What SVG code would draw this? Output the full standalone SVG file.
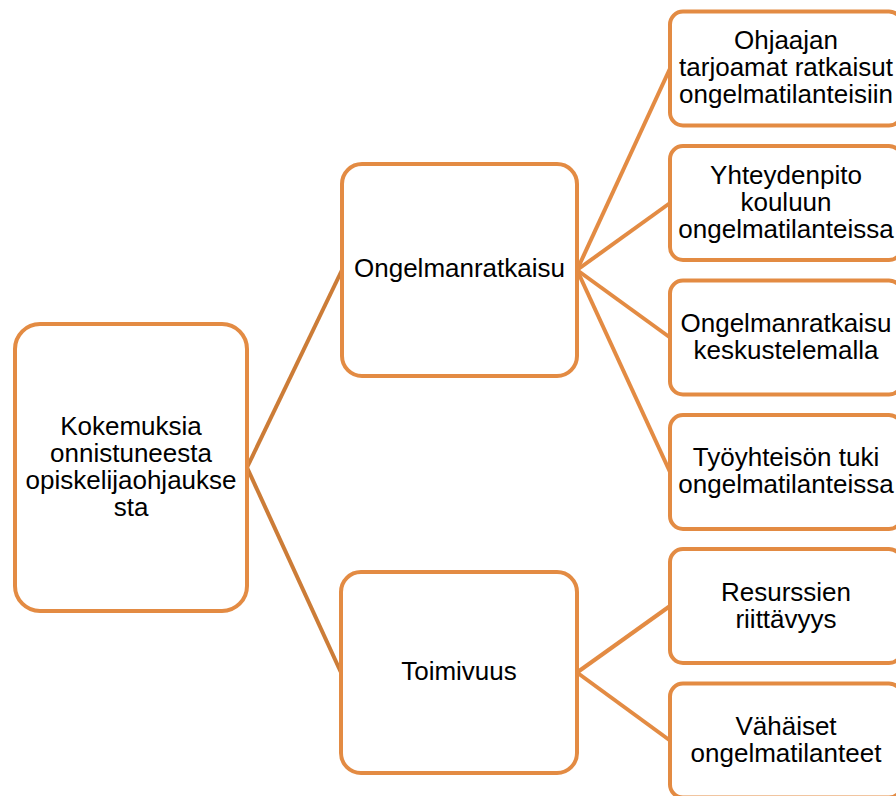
<svg xmlns="http://www.w3.org/2000/svg" width="896" height="796" viewBox="0 0 896 796">
<style>
.box{fill:#FFFFFF;stroke:#E38B43;stroke-width:4}
.lnk{fill:none;stroke:#E38B43;stroke-width:4}
.lnk0{fill:none;stroke:#CC7C37;stroke-width:4}
text{font-family:"Liberation Sans",Arial,sans-serif;font-size:26px;fill:#000000;text-anchor:middle}
</style>
<rect width="896" height="796" fill="#FFFFFF"/>
<g id="connectors">
<line class="lnk0" x1="247" y1="467.5" x2="342" y2="270"/>
<line class="lnk0" x1="247" y1="467.5" x2="341" y2="672.5"/>
<line class="lnk" x1="577" y1="270" x2="670" y2="68.5"/>
<line class="lnk" x1="577" y1="270" x2="670" y2="203"/>
<line class="lnk" x1="577" y1="270" x2="670" y2="337.5"/>
<line class="lnk" x1="577" y1="270" x2="670" y2="472"/>
<line class="lnk" x1="577" y1="672.5" x2="670" y2="606"/>
<line class="lnk" x1="577" y1="672.5" x2="670" y2="740.5"/>
</g>
<g id="root">
<rect class="box" x="15" y="324" width="232" height="287" rx="25"/>
<text x="131" y="435">Kokemuksia</text>
<text x="131" y="462">onnistuneesta</text>
<text x="131" y="489">opiskelijaohjaukse</text>
<text x="131" y="516">sta</text>
</g>
<g id="ongelmanratkaisu">
<rect class="box" x="342" y="164" width="235" height="212" rx="20"/>
<text x="459.5" y="277">Ongelmanratkaisu</text>
</g>
<g id="toimivuus">
<rect class="box" x="341" y="572" width="236" height="201" rx="20"/>
<text x="459" y="680">Toimivuus</text>
</g>
<g id="ohjaajan">
<rect class="box" x="670" y="11.5" width="232" height="114" rx="13"/>
<text x="786" y="49">Ohjaajan</text>
<text x="786" y="76">tarjoamat ratkaisut</text>
<text x="786" y="103">ongelmatilanteisiin</text>
</g>
<g id="yhteydenpito">
<rect class="box" x="670" y="146" width="232" height="114" rx="13"/>
<text x="786" y="183.5">Yhteydenpito</text>
<text x="786" y="210.5">kouluun</text>
<text x="786" y="237.5">ongelmatilanteissa</text>
</g>
<g id="keskustelemalla">
<rect class="box" x="670" y="280.5" width="232" height="114" rx="13"/>
<text x="786" y="331.5">Ongelmanratkaisu</text>
<text x="786" y="358.5">keskustelemalla</text>
</g>
<g id="tyoyhteison">
<rect class="box" x="670" y="415" width="232" height="114" rx="13"/>
<text x="786" y="466">Työyhteisön tuki</text>
<text x="786" y="493">ongelmatilanteissa</text>
</g>
<g id="resurssien">
<rect class="box" x="670" y="549" width="232" height="114" rx="13"/>
<text x="786" y="600.5">Resurssien</text>
<text x="786" y="627.5">riittävyys</text>
</g>
<g id="vahaiset">
<rect class="box" x="670" y="683.5" width="232" height="114" rx="13"/>
<text x="786" y="734.5">Vähäiset</text>
<text x="786" y="761.5">ongelmatilanteet</text>
</g>
</svg>
